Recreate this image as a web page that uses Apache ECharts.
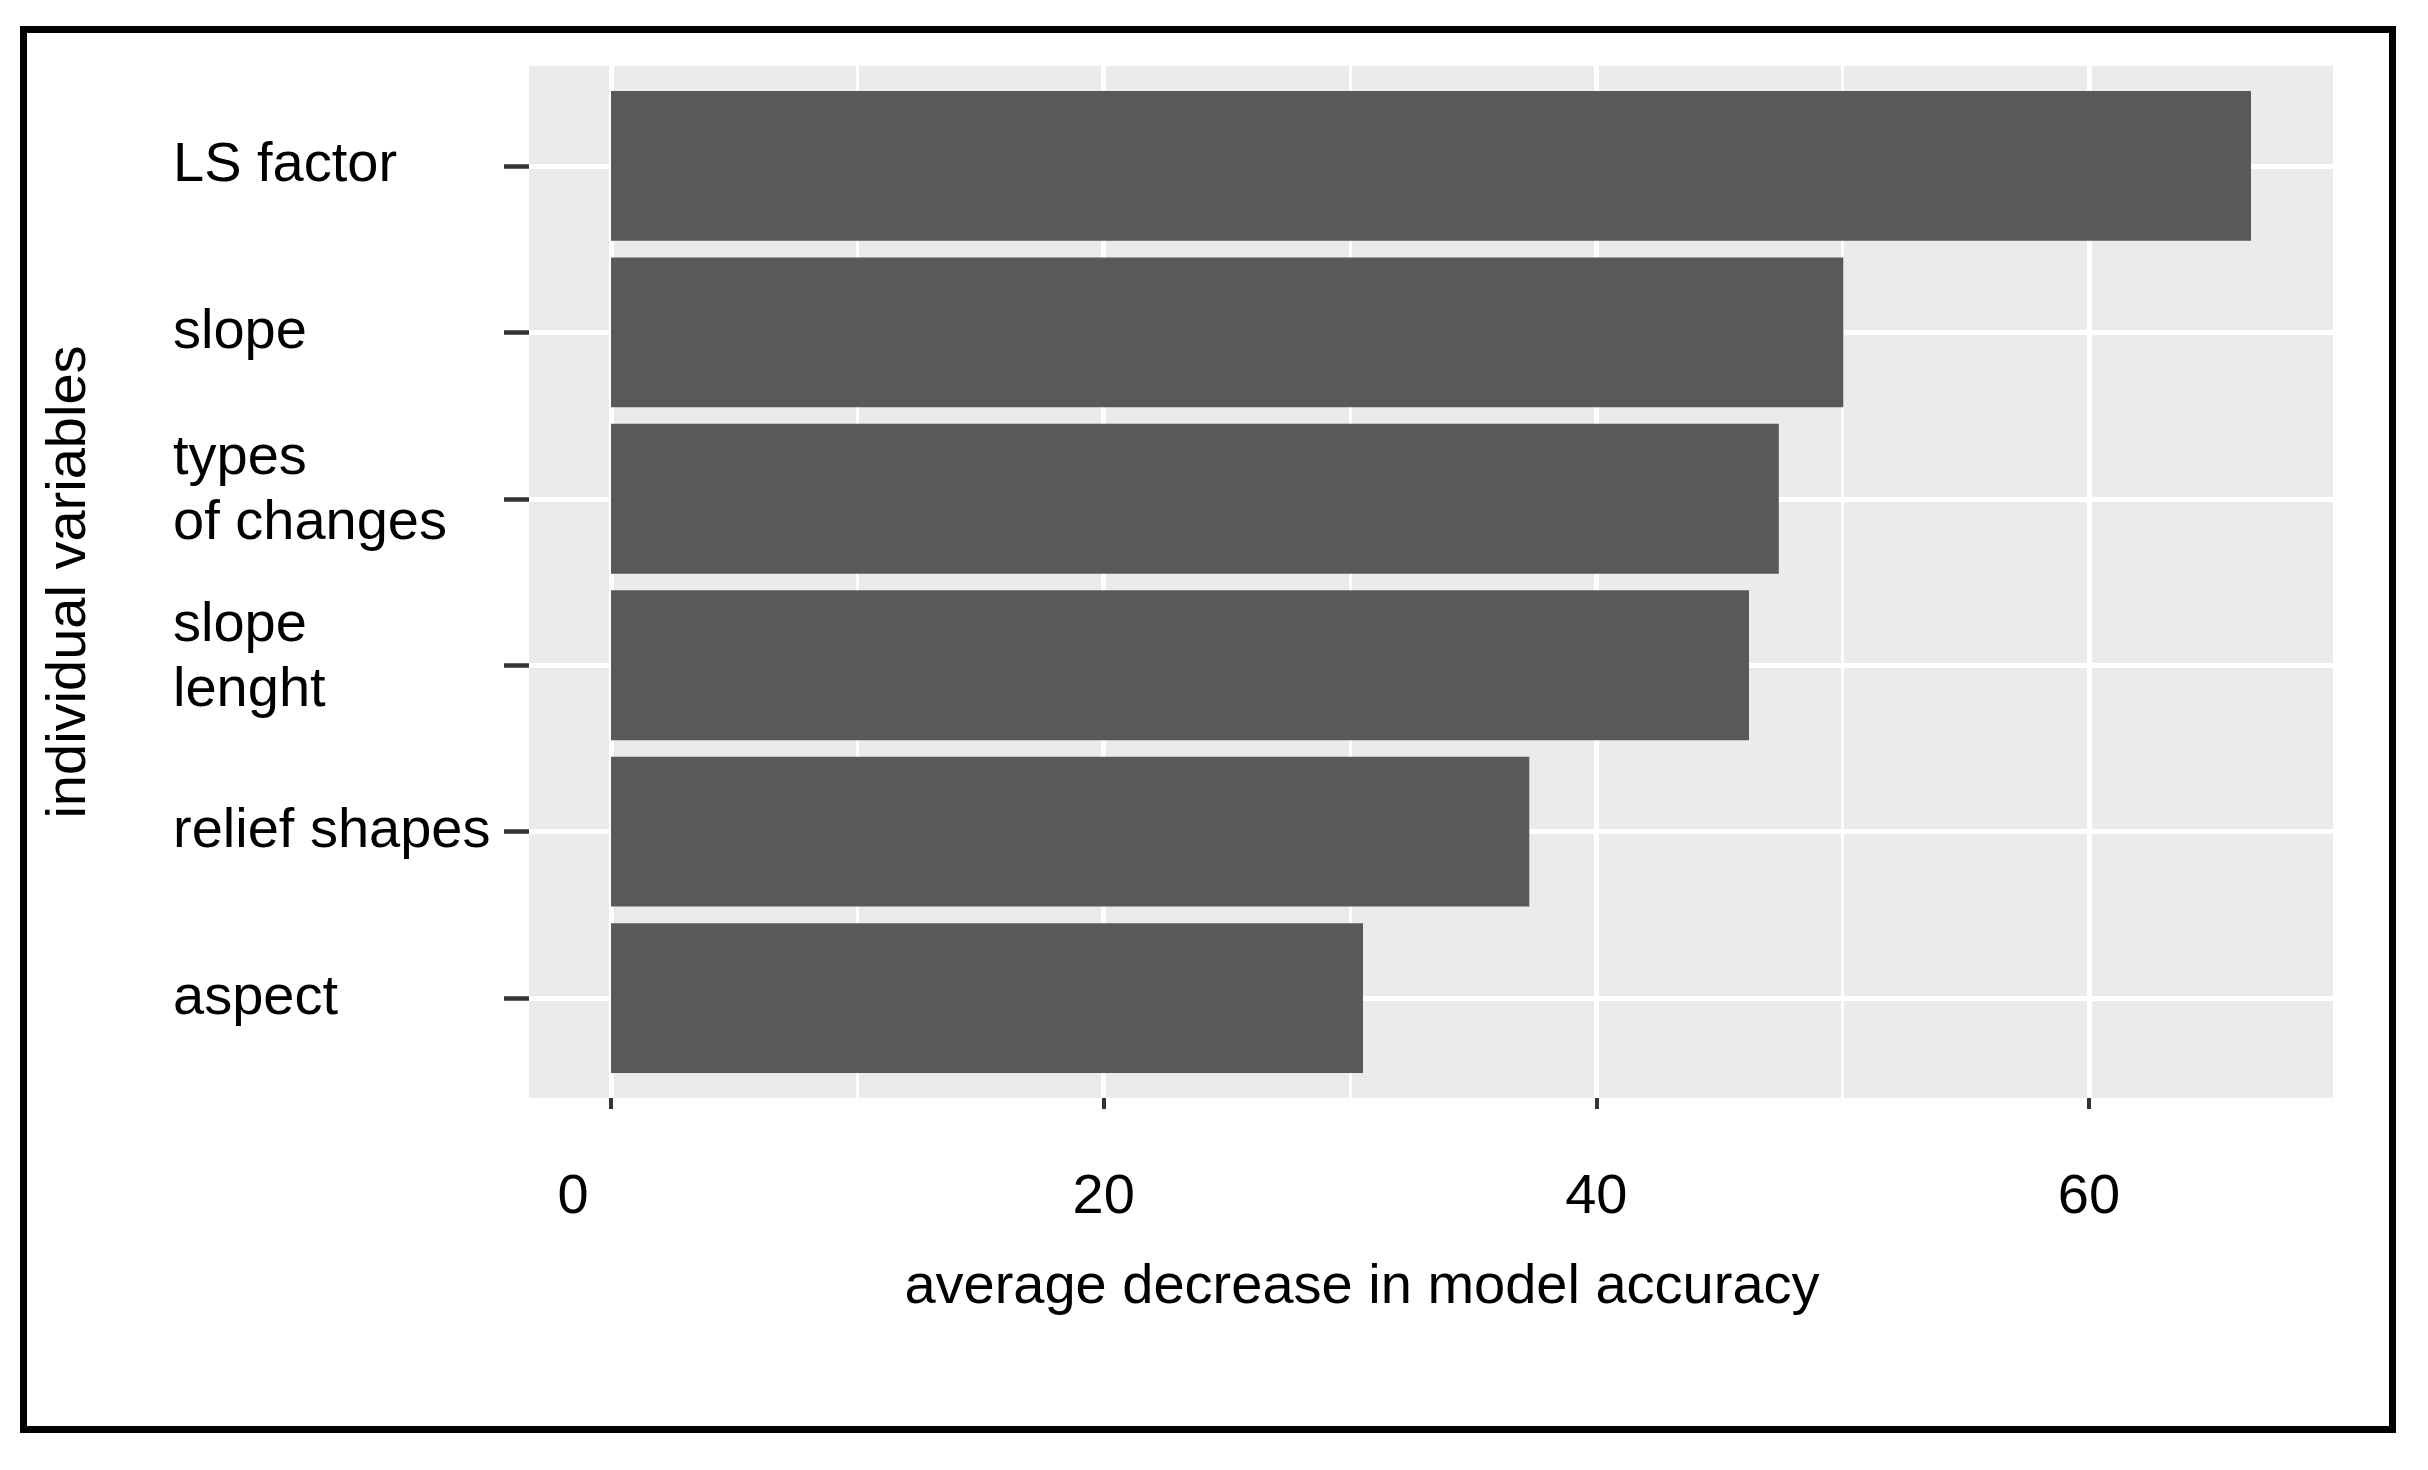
<!DOCTYPE html>
<html>
<head>
<meta charset="utf-8">
<script src="https://cdn.jsdelivr.net/npm/echarts@6/dist/echarts.min.js"></script>
<style>
  html, body { margin: 0; padding: 0; background: #ffffff; }
  #chart { width: 2428px; height: 1470px; }
</style>
</head>
<body>
<div id="chart"></div>
<script>
// ---- data ----
const categories = ['LS factor', 'slope', 'types\nof changes', 'slope\nlenght', 'relief shapes', 'aspect'];
const values = [66.58, 50.03, 47.41, 46.20, 37.28, 30.53];
const xTickStep = 20;      // major breaks 0, 20, 40, 60
const xTickLast = 60;
const xAxisTitle = 'average decrease in model accuracy';
const yAxisTitle = 'individual variables';

// ---- layout ----
const PANEL = { left: 529, top: 66, width: 1804, height: 1032 };
const FONT = "'Liberation Sans', Arial, Helvetica, sans-serif";
const FS = 56;

const maxV = Math.max.apply(null, values);
const xLo = -0.05 * maxV, xHi = 1.05 * maxV;          // ggplot-style 5% expansion
const pxPerUnit = PANEL.width / (xHi - xLo);
const x0px = PANEL.left + (0 - xLo) * pxPerUnit;
const breakWidth = xTickLast * pxPerUnit;
const step = PANEL.height / (categories.length - 1 + 1.2); // discrete expansion 0.6 each side

const chart = echarts.init(document.getElementById('chart'), null, { renderer: 'canvas' });

const option = {
  animation: false,
  backgroundColor: '#ffffff',
  textStyle: { fontFamily: FONT },
  graphic: [{
    type: 'rect',
    shape: { x: 23.5, y: 29.5, width: 2369, height: 1400 },
    style: { fill: 'none', stroke: '#000000', lineWidth: 7 },
    silent: true,
    z: 100
  }],
  grid: [
    { // panel background
      left: PANEL.left, top: PANEL.top, width: PANEL.width, height: PANEL.height,
      show: true, backgroundColor: '#EBEBEB', borderWidth: 0
    },
    { // vertical grid lines + x labels
      left: x0px, top: PANEL.top, width: breakWidth, height: PANEL.height,
      show: false
    },
    { // bars + horizontal grid lines
      left: PANEL.left, width: PANEL.width,
      top: PANEL.top + 0.6 * step, height: (categories.length - 1) * step,
      show: false
    }
  ],
  xAxis: [
    { gridIndex: 0, type: 'value', min: xLo, max: xHi, show: false },
    {
      gridIndex: 1, type: 'value', min: 0, max: xTickLast, interval: xTickStep,
      axisLine: { show: false, onZero: false },
      axisTick: { show: true, length: 11, lineStyle: { color: '#333333', width: 4 } },
      splitLine: { show: true, lineStyle: { color: '#ffffff', width: 5 } },
      minorTick: { show: false, splitNumber: 2 },
      minorSplitLine: { show: true, lineStyle: { color: '#ffffff', width: 3 } },
      axisLabel: {
        show: true, margin: 72, fontSize: FS, color: '#000000', fontFamily: FONT,
        formatter: function (v) { return v === 0 ? '{z|0}' : String(v); },
        rich: { z: { fontSize: FS, color: '#000000', fontFamily: FONT, padding: [0, 76, 0, 0] } }
      },
      name: xAxisTitle, nameLocation: 'middle', nameGap: 162,
      nameTextStyle: { fontSize: FS, color: '#000000', fontFamily: FONT, padding: [0, 0, 0, 24] }
    },
    { gridIndex: 2, type: 'value', min: xLo, max: xHi, show: false }
  ],
  yAxis: [
    {
      gridIndex: 0, type: 'value', min: 0, max: 1,
      axisLine: { show: false, onZero: false }, axisTick: { show: false }, axisLabel: { show: false },
      splitLine: { show: false },
      name: yAxisTitle, nameLocation: 'middle', nameGap: 431,
      nameTextStyle: { fontSize: FS, color: '#000000', fontFamily: FONT }
    },
    { gridIndex: 1, type: 'value', show: false },
    {
      gridIndex: 2, type: 'category', data: categories, inverse: true, boundaryGap: false,
      axisLine: { show: false, onZero: false },
      axisTick: { show: true, length: 25, lineStyle: { color: '#333333', width: 4.5 } },
      splitLine: { show: true, lineStyle: { color: '#ffffff', width: 5 } },
      axisLabel: {
        show: true, interval: 0, align: 'left', margin: PANEL.left - 173,
        fontSize: FS, color: '#000000', fontFamily: FONT, lineHeight: 65,
        formatter: function (v) {
          const parts = v.split('\n');
          if (parts.length === 1) return v;
          return '{a|' + parts[0] + '}\n{a|' + parts[1] + '}\n{e| }';
        },
        rich: {
          a: { fontSize: FS, lineHeight: 65, color: '#000000', fontFamily: FONT },
          e: { fontSize: 2, lineHeight: 15 }
        }
      }
    }
  ],
  series: [{
    type: 'bar',
    xAxisIndex: 2, yAxisIndex: 2,
    data: values,
    barWidth: '90%',
    clip: false,
    silent: true,
    itemStyle: { color: '#595959' }
  }]
};

chart.setOption(option);
</script>
</body>
</html>
